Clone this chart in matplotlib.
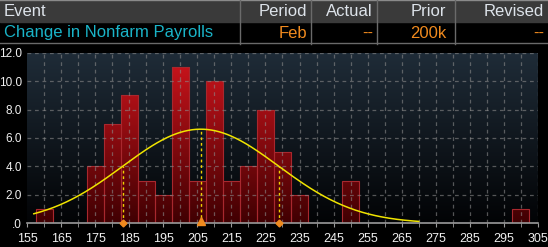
import numpy as np
import matplotlib
matplotlib.use("Agg")
import matplotlib.pyplot as plt
from matplotlib.patches import Rectangle

# Histogram of forecasts (bin centre, count)
bin_centers = [160, 175, 180, 185, 190, 195, 200, 205, 210, 215, 220, 225, 230, 235, 250, 300]
counts = [1, 4, 7, 9, 3, 2, 11, 3, 10, 3, 4, 8, 5, 2, 3, 1]
bin_width = 5

# Normal fit
fit_mean = 206.0
fit_sd = 22.9
curve_lo, curve_hi = 157, 270

x_ticks = list(range(155, 306, 10))
y_ticks = [0, 2, 4, 6, 8, 10, 12]
y_labels = [".0", "2.0", "4.0", "6.0", "8.0", "10.0", "12.0"]

headers = ["Event", "Period", "Actual", "Prior", "Revised"]
row = ["Change in Nonfarm Payrolls", "Feb", "--", "200k", "--"]

plt.rcParams['font.family'] = ['Liberation Sans', 'DejaVu Sans']

W, H = 548, 247
fig = plt.figure(figsize=(W / 100, H / 100), dpi=100, facecolor='black')

# ---- header table ----
top = fig.add_axes([0, 0, 1, 1])
top.set_xlim(0, W)
top.set_ylim(H, 0)
top.axis('off')
top.add_patch(Rectangle((0, 0), W, 22, color='#3a3a3a'))
top.plot([0, W], [0.5, 0.5], color='#8a8a8a', lw=1)
top.plot([0, W], [43.5, 43.5], color='#6a6a6a', lw=1)
for sx in [239.5, 311, 377, 455]:
    top.plot([sx, sx], [0, 44], color='#6a6a6a', lw=1)
col_right = [None, 307, 373, 446, 544]
row_colors = ['#1ab4c8', '#f08a1e', '#f08a1e', '#f08a1e', '#f08a1e']
for i, (h, r) in enumerate(zip(headers, row)):
    if i == 0:
        top.text(4, 11.5, h, color='#dde3ea', fontsize=12, va='center', ha='left')
        top.text(4, 33, r, color=row_colors[i], fontsize=12, va='center', ha='left')
    else:
        top.text(col_right[i], 11.5, h, color='#dde3ea', fontsize=12, va='center', ha='right')
        top.text(col_right[i], 33, r, color=row_colors[i], fontsize=12, va='center', ha='right')

# ---- chart ----
ax = fig.add_axes([27 / W, (H - 223.3) / H, (538 - 27) / W, (223.3 - 52.7) / H])
ax.set_xlim(155, 305)
ax.set_ylim(0, 12)
ax.set_facecolor('black')

# background gradient
grad = np.linspace(0, 1, 256).reshape(-1, 1)
bg = np.zeros((256, 1, 3))
c_top = np.array([0x1f, 0x2c, 0x38]) / 255
c_bot = np.array([0x02, 0x03, 0x05]) / 255
bg[:, 0, :] = c_bot + (c_top - c_bot) * grad
ax.imshow(bg, extent=[155, 305, 0, 12], origin='lower', aspect='auto', zorder=0)

# bars with a vertical red gradient (absolute in y)
red = np.zeros((256, 1, 3))
r_top = np.array([0xcc, 0x14, 0x1c]) / 255
r_bot = np.array([0x40, 0x00, 0x02]) / 255
red[:, 0, :] = r_bot + (r_top - r_bot) * grad
for c, n in zip(bin_centers, counts):
    rect = Rectangle((c - bin_width / 2, 0), bin_width, n, facecolor='none',
                     edgecolor='#a8282e', lw=0.8, zorder=2)
    ax.add_patch(rect)
    im = ax.imshow(red, extent=[155, 305, 0, 11.5], origin='lower', aspect='auto', zorder=1)
    im.set_clip_path(rect)

# grid
for gx in range(160, 306, 5):
    ax.axvline(gx, color='#8a8a8a', lw=0.9, ls=(0, (3, 3)), alpha=0.6, zorder=3)
for gy in y_ticks[1:]:
    ax.axhline(gy, color='#8a8a8a', lw=0.9, ls=(0, (3, 3)), alpha=0.6, zorder=3)

# normal curve
scale = sum(counts) * bin_width
xs = np.linspace(curve_lo, curve_hi, 300)
ys = scale * np.exp(-0.5 * ((xs - fit_mean) / fit_sd) ** 2) / (fit_sd * np.sqrt(2 * np.pi))
ax.plot(xs, ys, color='#f0e400', lw=1.1, zorder=5)

for mx in [fit_mean - fit_sd, fit_mean, fit_mean + fit_sd]:
    my = scale * np.exp(-0.5 * ((mx - fit_mean) / fit_sd) ** 2) / (fit_sd * np.sqrt(2 * np.pi))
    ax.plot([mx, mx], [0, my], color='#f0d000', lw=1.0, ls=(0, (2, 2)), zorder=5)
ax.plot([fit_mean - fit_sd, fit_mean + fit_sd], [0, 0], ls='none', marker='D', ms=3.5,
        color='#f08a1e', zorder=6, clip_on=False)
ax.plot([fit_mean], [0.15], ls='none', marker='^', ms=5.5, color='#f08a1e', zorder=6, clip_on=False)

# axes styling
for s in ['top', 'right', 'left']:
    ax.spines[s].set_visible(False)
ax.spines['bottom'].set_color('#9a9a9a')
ax.spines['bottom'].set_linewidth(1.2)
ax.spines['bottom'].set_zorder(4)
ax.set_xticks(x_ticks)
ax.set_xticks(range(160, 305, 10), minor=True)
ax.set_yticks(y_ticks)
ax.set_yticklabels(y_labels)
ax.tick_params(axis='x', colors='#9a9a9a', labelcolor='#f0f0f0', labelsize=9, length=3, pad=4)
ax.tick_params(axis='x', which='minor', colors='#9a9a9a', length=3)
ax.tick_params(axis='y', length=0, labelcolor='#f0f0f0', labelsize=8.5, pad=3.5)

fig.savefig('out.png', dpi=100, facecolor='black')
